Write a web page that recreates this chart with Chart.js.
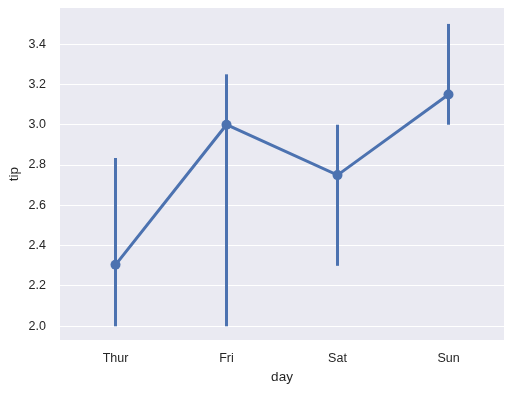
<!DOCTYPE html>
<html>
<head>
<meta charset="utf-8">
<script src="https://cdn.jsdelivr.net/npm/chart.js@4.4.0/dist/chart.umd.min.js"></script>
<style>
  html, body { margin: 0; padding: 0; background: #fff; }
  #wrap { width: 514px; height: 393px; }
</style>
</head>
<body>
<div id="wrap"><canvas id="chart" width="514" height="393"></canvas></div>
<script>
const days = ['Thur', 'Fri', 'Sat', 'Sun'];
const tipMedian = [2.305, 3.0, 2.75, 3.15];
const ciLow = [2.0, 2.0, 2.3, 3.0];
const ciHigh = [2.835, 3.25, 3.0, 3.5];
const yTicks = [2.0, 2.2, 2.4, 2.6, 2.8, 3.0, 3.2, 3.4];

const blue = '#4c72b0';
const ink = '#262626';

// shade the plotting area like seaborn's darkgrid
const bgPlugin = {
  id: 'bg',
  beforeDraw(chart) {
    const a = chart.chartArea;
    const ctx = chart.ctx;
    ctx.save();
    ctx.fillStyle = '#eaeaf2';
    ctx.fillRect(a.left, a.top, a.right - a.left, a.bottom - a.top);
    ctx.restore();
  }
};

const errorSets = days.map((d, i) => ({
  data: [{ x: i, y: ciLow[i] }, { x: i, y: ciHigh[i] }],
  borderColor: blue,
  borderWidth: 3,
  borderCapStyle: 'butt',
  pointRadius: 0,
  showLine: true,
  order: 2
}));

new Chart(document.getElementById('chart'), {
  type: 'scatter',
  data: {
    datasets: [{
      data: tipMedian.map((v, i) => ({ x: i, y: v })),
      borderColor: blue,
      backgroundColor: blue,
      borderWidth: 3,
      pointRadius: 5,
      pointBorderWidth: 0,
      showLine: true,
      order: 1
    }, ...errorSets]
  },
  options: {
    responsive: false,
    animation: false,
    layout: { padding: { top: 8, right: 10, left: 0, bottom: 0 } },
    plugins: { legend: { display: false }, tooltip: { enabled: false } },
    scales: {
      x: {
        type: 'linear',
        min: -0.5,
        max: 3.5,
        afterFit(s) { s.height = 53; s.paddingLeft = 0; s.paddingRight = 0; },
        afterBuildTicks(s) { s.ticks = days.map((d, i) => ({ value: i })); },
        grid: { display: false, drawTicks: false },
        border: { display: false },
        ticks: {
          padding: 11,
          color: ink,
          font: { family: 'Liberation Sans', size: 12.5 },
          callback: v => days[v]
        },
        title: {
          display: true,
          text: 'day',
          color: ink,
          font: { family: 'Liberation Sans', size: 13.5 },
          padding: { top: 0, bottom: 8 }
        }
      },
      y: {
        min: 1.932,
        max: 3.579,
        afterFit(s) { s.width = 60; s.paddingTop = 0; s.paddingBottom = 0; },
        afterBuildTicks(s) { s.ticks = yTicks.map(v => ({ value: v })); },
        grid: { color: '#ffffff', lineWidth: 1, drawTicks: false },
        border: { display: false },
        ticks: {
          padding: 14,
          color: ink,
          font: { family: 'Liberation Sans', size: 12.5 },
          callback: v => v.toFixed(1)
        },
        title: {
          display: true,
          text: 'tip',
          color: ink,
          font: { family: 'Liberation Sans', size: 13.5 },
          padding: { top: 6, bottom: 0 }
        }
      }
    }
  },
  plugins: [bgPlugin]
});
</script>
</body>
</html>
